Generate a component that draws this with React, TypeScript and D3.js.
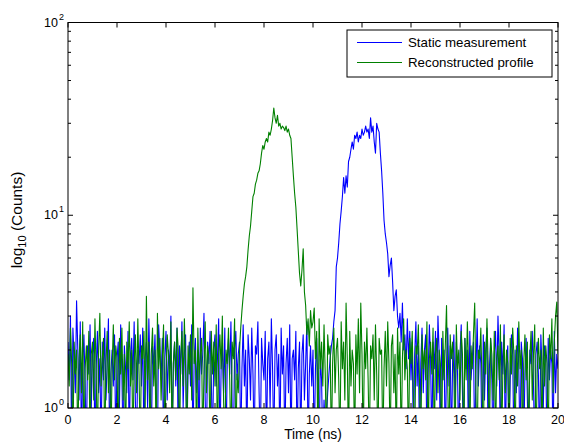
import React from "react";
import * as d3 from "d3";

// time step between samples (ns)
const TIME_STEP = 0.05;

// Static measurement (blue): 0.00–10.50 ns noise
const blueNoiseA = [
  2.2, 1.4, 3.0, 0.6, 2.6, 1.8, 1.2, 3.6, 2.0, 1.1,
  2.8, 0.6, 1.7, 2.4, 1.3, 0.6, 2.1, 1.5, 2.7, 1.0,
  1.9, 2.3, 0.6, 1.6, 2.5, 1.2, 1.8, 0.6, 2.2, 1.4,
  2.6, 1.1, 1.7, 2.9, 0.6, 1.5, 2.0, 1.3, 2.4, 0.6,
  1.8, 2.2, 1.0, 2.7, 1.5, 0.6, 2.1, 1.6, 1.2, 2.5,
  0.6, 1.9, 2.3, 1.4, 2.8, 1.1, 0.6, 2.0, 1.7, 2.4,
  1.3, 2.6, 0.6, 1.8, 2.2, 1.0, 2.9, 1.5, 0.6, 2.1,
  1.6, 2.4, 1.2, 0.6, 2.7, 1.9, 1.4, 2.3, 0.6, 1.8,
  2.5, 1.1, 2.0, 1.6, 3.0, 0.6, 1.7, 2.2, 1.3, 2.6,
  0.6, 2.1, 1.5, 2.8, 1.0, 1.9, 2.4, 0.6, 1.6, 2.2,
  1.3, 2.7, 0.6, 1.8, 2.3, 1.2, 2.0, 0.6, 2.6, 1.5,
  1.9, 3.1, 1.1, 0.6, 2.2, 1.7, 2.5, 1.4, 0.6, 2.0,
  2.4, 1.3, 1.8, 2.9, 0.6, 1.6, 2.1, 1.2, 2.6, 0.6,
  1.7, 2.3, 1.5, 2.8, 1.0, 0.6, 2.0, 2.5, 1.4, 1.9,
  2.2, 0.6, 1.6, 2.7, 1.3, 2.0, 0.6, 2.4, 1.8, 1.1,
  2.6, 1.5, 0.6, 2.1, 1.9, 2.8, 1.2, 0.6, 2.3, 1.7,
  1.4, 2.5, 0.6, 1.8, 2.2, 1.0, 2.9, 1.6, 0.6, 2.0,
  2.4, 1.3, 1.9, 0.6, 2.6, 1.5, 2.1, 0.6, 1.7, 2.3,
  1.2, 2.7, 0.6, 1.8, 2.0, 1.4, 2.5, 0.6, 1.6, 2.2,
  0.6, 1.9, 2.4, 1.1, 1.7, 2.8, 0.6, 1.5, 2.1, 1.3,
  2.0, 0.6, 1.6, 2.3, 1.2, 0.6, 1.8, 1.4, 0.6, 1.1,
  0.8,
];
// Static measurement peak: 10.55–13.70 ns
const bluePeak = [
  0.9, 1.2, 1.5, 1.8, 2.1, 2.3, 2.8, 3.2, 5.4, 6.0,
  7.2, 9.0, 10.5, 12.5, 15.7, 13.0, 16, 14, 19, 20,
  22, 24, 22, 26, 25, 27, 24, 26, 25, 28,
  26, 27, 29, 27, 28, 25, 32, 27, 29, 24,
  21, 30, 28, 27, 21, 17, 13, 9.4, 8.0, 7.2,
  6.3, 4.8, 5.5, 6.0, 4.5, 3.2, 3.8, 4.1, 3.0, 2.6,
  3.1, 2.2, 3.5, 2.0,
];
// Static measurement: 13.75–20.00 ns noise
const blueNoiseB = [
  2.4, 1.6, 2.9, 1.8, 2.5,
  1.4, 2.2, 0.6, 1.9, 2.8, 1.3, 2.1, 0.6, 1.7, 2.6,
  1.2, 2.0, 2.4, 0.6, 1.5, 2.7, 1.8, 0.6, 2.2, 1.6,
  2.5, 1.1, 3.0, 1.9, 0.6, 2.3, 1.4, 2.0, 0.6, 1.7,
  2.6, 1.3, 2.1, 0.6, 1.8, 2.4, 1.0, 2.2, 1.5, 0.6,
  1.9, 2.7, 1.2, 0.6, 2.3, 1.6, 2.0, 0.6, 2.5, 1.4,
  1.8, 2.2, 0.6, 1.5, 2.9, 1.3, 2.1, 1.7, 0.6, 2.4,
  1.1, 2.0, 2.6, 0.6, 1.6, 2.3, 1.4, 0.6, 1.9, 2.5,
  1.3, 3.0, 1.8, 0.6, 2.2, 1.5, 2.7, 0.6, 1.7, 2.1,
  0.6, 1.4, 2.4, 1.9, 0.6, 2.0, 1.2, 2.6, 1.6, 0.6,
  2.2, 1.8, 0.6, 1.5, 2.3, 1.1, 0.6, 2.0, 1.7, 2.5,
  1.3, 0.6, 1.9, 2.2, 1.5, 0.6, 2.4, 1.6, 1.0, 2.1,
  1.8, 0.6, 2.3, 1.4, 2.0, 1.7, 0.6, 2.5, 1.2, 1.9,
  1.6,
];

// Reconstructed profile (green): 0.00–6.90 ns noise
const greenNoiseA = [
  1.9, 1.3, 2.6, 1.7, 0.6, 2.2, 1.5, 2.0, 0.6, 1.8,
  2.4, 1.2, 2.8, 0.6, 1.6, 2.1, 1.4, 2.5, 0.6, 1.9,
  2.2, 1.1, 2.9, 1.5, 0.6, 2.0, 3.1, 1.3, 1.8, 2.3,
  0.6, 1.7, 2.5, 1.2, 2.0, 0.6, 1.6, 2.7, 1.4, 2.1,
  1.8, 0.6, 2.3, 1.5, 2.6, 1.1, 1.9, 0.6, 2.2, 1.6,
  2.8, 1.3, 2.0, 0.6, 1.7, 2.4, 1.2, 2.9, 1.5, 0.6,
  2.1, 1.8, 2.5, 1.0, 3.8, 1.4, 2.2, 0.6, 1.9, 2.6,
  1.3, 2.0, 0.6, 3.1, 1.6, 2.3, 1.1, 1.8, 2.7, 0.6,
  1.5, 2.4, 1.9, 1.2, 2.8, 0.6, 1.7, 2.2, 1.4, 2.6,
  2.0, 0.6, 1.8, 2.5, 1.3, 2.9, 1.6, 0.6, 2.1, 1.5,
  2.4, 1.1, 4.2, 1.7, 2.0, 0.6, 2.6, 1.4, 1.9, 2.3,
  0.6, 1.6, 2.8, 1.2, 2.1, 1.8, 0.6, 2.5, 1.5, 2.2,
  1.3, 2.7, 0.6, 1.9, 2.4, 1.6, 3.0, 1.1, 0.6, 2.0,
  1.7, 2.6, 1.4, 0.6, 2.2, 1.8, 2.9, 0.6, 1.5,
];
// Reconstructed peak: 6.95–10.00 ns
const greenPeak = [
  1.2,
  2.0, 2.6, 3.2, 3.8, 4.4, 4.8, 5.4, 6.6, 7.8, 8.8,
  10.5, 12.5, 13.0, 14.5, 15.2, 16.5, 17.0, 18.5, 21, 23,
  22, 24, 25, 24, 27, 26, 28, 31, 36, 32,
  30, 33, 29, 30, 28, 29, 28.5, 27.5, 29, 27,
  28, 26, 25, 20, 16, 13, 11, 8.5, 6.5, 5.0,
  4.3, 5.2, 6.7, 4.0, 3.4, 2.4, 2.9, 2.1, 3.2, 2.6,
  2.8,
];
// Reconstructed profile: 10.05–20.00 ns noise
const greenNoiseB = [
  3.3, 1.8, 2.5, 0.6, 2.9, 1.6, 2.2, 1.3, 2.7,
  1.5, 0.6, 2.4, 1.9, 2.1, 0.6, 1.7, 2.6, 1.2, 2.0,
  2.3, 1.4, 0.6, 2.8, 1.6, 2.2, 1.1, 3.5, 1.8, 0.6,
  2.5, 1.3, 2.0, 1.7, 0.6, 2.4, 1.5, 2.9, 1.2, 3.5,
  1.9, 0.6, 2.2, 1.6, 2.6, 1.4, 0.6, 2.1, 1.8, 2.4,
  1.1, 2.7, 1.5, 0.6, 2.3, 1.9, 2.0, 0.6, 1.6, 2.5,
  1.3, 2.8, 1.7, 0.6, 2.1, 2.4, 1.2, 1.9, 0.6, 2.6,
  1.5, 2.2, 0.6, 1.8, 2.9, 1.4, 2.0, 1.6, 0.6, 2.3,
  1.7, 2.5, 1.1, 0.6, 2.1, 1.9, 2.7, 1.3, 0.6, 2.4,
  1.6, 2.0, 1.4, 2.8, 0.6, 1.8, 2.2, 1.5, 2.6, 0.6,
  1.9, 2.3, 1.2, 2.0, 1.7, 0.6, 2.5, 1.4, 2.1, 3.4,
  1.3, 0.6, 2.4, 1.8, 2.2, 1.5, 0.6, 2.7, 1.6, 2.0,
  1.1, 2.5, 1.9, 0.6, 2.3, 1.4, 2.8, 1.7, 0.6, 2.1,
  1.6, 2.4, 3.5, 1.2, 0.6, 2.0, 1.8, 2.6, 1.3, 0.6,
  2.2, 1.5, 2.9, 1.7, 0.6, 2.3, 1.9, 1.1, 2.5, 0.6,
  1.8, 2.1, 1.4, 2.7, 0.6, 1.6, 2.4, 1.2, 2.0, 1.7,
  0.6, 2.3, 1.5, 2.6, 1.9, 0.6, 2.1, 1.3, 2.8, 1.6,
  2.0, 0.6, 1.7, 2.4, 1.4, 2.2, 0.6, 1.8, 2.5, 1.1,
  1.9, 2.7, 0.6, 1.5, 2.3, 1.6, 2.0, 0.6, 2.6, 1.3,
  2.1, 1.7, 0.6, 2.4, 1.8, 2.9, 1.2, 2.2, 3.0, 3.55,
  1.9,
];

const staticCounts = [...blueNoiseA, ...bluePeak, ...blueNoiseB];
const reconCounts = [...greenNoiseA, ...greenPeak, ...greenNoiseB];

const xTicks = [0, 2, 4, 6, 8, 10, 12, 14, 16, 18, 20];
const yDecades = [0, 1, 2];
const legendLabels = ["Static measurement", "Reconstructed profile"];
const seriesColors = ["#0000ff", "#008000"];

const W = 564;
const H = 445;
const M = { left: 68, right: 558, top: 22.5, bottom: 408 };
const FONT = "'Liberation Sans', Arial, Helvetica, sans-serif";

export default function App() {
  const x = d3.scaleLinear().domain([0, 20]).range([M.left, M.right]);
  const y = d3.scaleLog().domain([1, 100]).range([M.bottom, M.top]);

  const line = d3
    .line<number>()
    .x((_, i) => x(i * TIME_STEP))
    .y((d) => y(d));

  const minorTicks: number[] = [];
  for (const dec of [1, 10]) {
    for (let k = 2; k <= 9; k++) minorTicks.push(dec * k);
  }

  const tickLen = 5;
  const minorLen = 3;

  return (
    <svg
      width={W}
      height={H}
      style={{ position: "absolute", left: 0, top: 0, background: "#fff" }}
      fontFamily={FONT}
    >
      <defs>
        <clipPath id="plotClip">
          <rect x={M.left} y={M.top} width={M.right - M.left} height={M.bottom - M.top} />
        </clipPath>
      </defs>
      <rect x={0} y={0} width={W} height={H} fill="#fff" />

      <g clipPath="url(#plotClip)" fill="none" strokeWidth={1.1} strokeLinejoin="round">
        <path d={line(staticCounts) || ""} stroke={seriesColors[0]} />
        <path d={line(reconCounts) || ""} stroke={seriesColors[1]} />
      </g>

      {/* axes box */}
      <rect
        x={M.left}
        y={M.top}
        width={M.right - M.left}
        height={M.bottom - M.top}
        fill="none"
        stroke="#000"
        strokeWidth={1}
      />

      {/* x ticks */}
      {xTicks.map((t) => (
        <g key={"x" + t}>
          <line x1={x(t)} x2={x(t)} y1={M.bottom} y2={M.bottom - tickLen} stroke="#000" />
          <line x1={x(t)} x2={x(t)} y1={M.top} y2={M.top + tickLen} stroke="#000" />
          <text x={x(t)} y={424} textAnchor="middle" fontSize={12.5} fill="#000">
            {t}
          </text>
        </g>
      ))}

      {/* y major ticks */}
      {yDecades.map((p) => {
        const yy = y(Math.pow(10, p));
        return (
          <g key={"y" + p}>
            <line x1={M.left} x2={M.left + tickLen} y1={yy} y2={yy} stroke="#000" />
            <line x1={M.right} x2={M.right - tickLen} y1={yy} y2={yy} stroke="#000" />
            <text x={58} y={yy + 4} textAnchor="end" fontSize={12.5} fill="#000">
              10
            </text>
            <text x={59} y={yy - 3} textAnchor="start" fontSize={9} fill="#000">
              {p}
            </text>
          </g>
        );
      })}
      {minorTicks.map((v) => (
        <g key={"m" + v}>
          <line x1={M.left} x2={M.left + minorLen} y1={y(v)} y2={y(v)} stroke="#000" />
          <line x1={M.right} x2={M.right - minorLen} y1={y(v)} y2={y(v)} stroke="#000" />
        </g>
      ))}

      {/* axis labels */}
      <text x={(M.left + M.right) / 2} y={439} textAnchor="middle" fontSize={13.8} fill="#000">
        Time (ns)
      </text>
      <text
        transform={`translate(22, 220) rotate(-90)`}
        textAnchor="middle"
        fontSize={15.5}
        fill="#000"
      >
        log
        <tspan fontSize={11} dy={4}>
          10
        </tspan>
        <tspan dy={-4}> (Counts)</tspan>
      </text>

      {/* legend */}
      <g>
        <rect x={347} y={30} width={205} height={47} fill="#fff" stroke="#000" strokeWidth={1} />
        {legendLabels.map((lab, i) => {
          const ly = 42.5 + i * 20;
          return (
            <g key={lab}>
              <line x1={357} x2={402} y1={ly} y2={ly} stroke={seriesColors[i]} strokeWidth={1} />
              <text x={408} y={ly + 4.5} fontSize={13.3} fill="#000">
                {lab}
              </text>
            </g>
          );
        })}
      </g>
    </svg>
  );
}
